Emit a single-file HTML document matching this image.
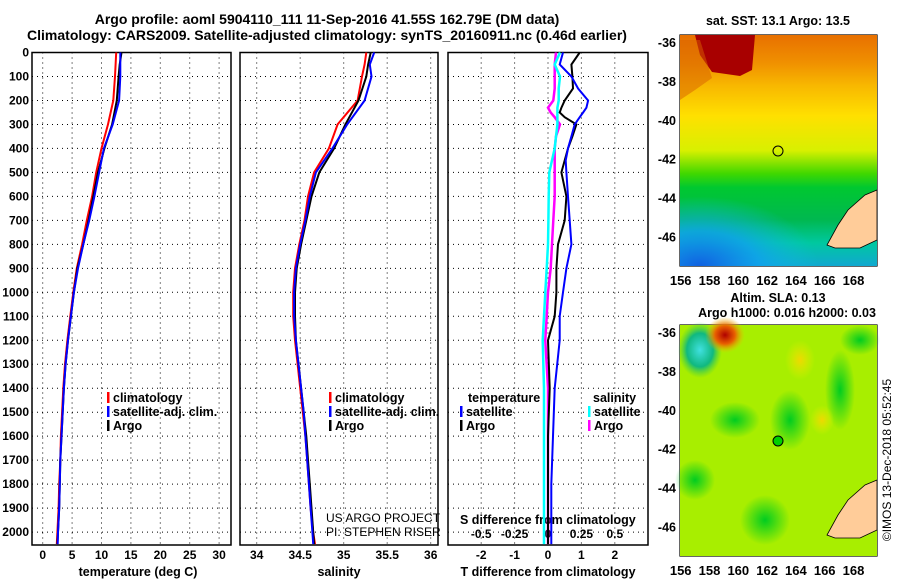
<!DOCTYPE html>
<html><head><meta charset="utf-8"><style>
body{margin:0;background:#fff}
svg{display:block;font-family:"Liberation Sans",sans-serif}
.b{font-weight:bold;font-size:12px}
.l{font-weight:bold;font-size:12.5px}
</style></head><body>
<svg id="c" width="900" height="580" viewBox="0 0 900 580">
<defs>
<linearGradient id="sst" x1="0" y1="0" x2="0" y2="1">
<stop offset="0" stop-color="#e87000"/><stop offset="0.12" stop-color="#f09000"/><stop offset="0.22" stop-color="#f8b800"/><stop offset="0.35" stop-color="#ffe000"/><stop offset="0.5" stop-color="#d8f000"/><stop offset="0.6" stop-color="#40d800"/><stop offset="0.66" stop-color="#00c830"/><stop offset="0.8" stop-color="#00b850"/><stop offset="0.9" stop-color="#00c8a0"/><stop offset="1" stop-color="#10a8d0"/>
</linearGradient>
<radialGradient id="blue" cx="0.1" cy="1" r="0.6"><stop offset="0" stop-color="#1060e0"/><stop offset="0.5" stop-color="#10a0f0" stop-opacity="0.8"/><stop offset="1" stop-color="#10c0e0" stop-opacity="0"/></radialGradient>
<radialGradient id="red" cx="0.5" cy="0.5" r="0.5"><stop offset="0" stop-color="#b00000"/><stop offset="0.5" stop-color="#e86000"/><stop offset="1" stop-color="#f0c000" stop-opacity="0"/></radialGradient>
<radialGradient id="cy" cx="0.5" cy="0.5" r="0.5"><stop offset="0" stop-color="#40e0e0"/><stop offset="0.6" stop-color="#10b880"/><stop offset="1" stop-color="#40d040" stop-opacity="0"/></radialGradient>
<radialGradient id="gr" cx="0.5" cy="0.5" r="0.5"><stop offset="0" stop-color="#00cc20"/><stop offset="1" stop-color="#00cc20" stop-opacity="0"/></radialGradient>
<radialGradient id="ye" cx="0.5" cy="0.5" r="0.5"><stop offset="0" stop-color="#f0d800"/><stop offset="1" stop-color="#e0f000" stop-opacity="0"/></radialGradient>
</defs>
<g id="main"></g>
<g>
<rect x="680" y="35" width="197" height="231" fill="url(#sst)"/>
<rect x="680" y="150" width="197" height="116" fill="url(#blue)"/>
<polygon points="695,35 755,35 752,70 740,76 712,72 700,55" fill="#a80000"/>
<polygon points="680,40 700,40 712,78 695,90 680,100" fill="#d86000" opacity="0.5"/>
<polygon points="877,190 865,195 848,210 838,225 827,245 835,248 860,248 877,240" fill="#ffcc99" stroke="#000" stroke-width="0.8"/>
<circle cx="778" cy="151" r="5" fill="none" stroke="#000"/>
</g>
<g>
<rect x="680" y="325" width="197" height="231" fill="#a8ee00"/>
<ellipse cx="700" cy="350" rx="22" ry="28" fill="url(#cy)"/>
<ellipse cx="725" cy="335" rx="20" ry="18" fill="url(#red)"/>
<ellipse cx="735" cy="420" rx="25" ry="18" fill="url(#gr)"/>
<ellipse cx="765" cy="520" rx="25" ry="25" fill="url(#gr)"/>
<ellipse cx="695" cy="480" rx="20" ry="20" fill="url(#gr)"/>
<ellipse cx="790" cy="420" rx="20" ry="30" fill="url(#gr)"/>
<ellipse cx="840" cy="390" rx="15" ry="40" fill="url(#gr)"/>
<ellipse cx="860" cy="340" rx="20" ry="15" fill="url(#gr)"/>
<ellipse cx="800" cy="360" rx="15" ry="20" fill="url(#ye)"/>
<ellipse cx="822" cy="420" rx="12" ry="15" fill="url(#ye)"/>
<polygon points="877,480 865,485 848,500 838,515 827,535 835,538 860,538 877,530" fill="#ffcc99" stroke="#000" stroke-width="0.8"/>
<circle cx="778" cy="441" r="5" fill="#00d000" stroke="#000"/>
</g>
</svg>
<script>
// profile data (depth in dbar)
const depths=[0,50,100,200,300,400,500,600,700,800,900,1000,1100,1200,1300,1400,1500,1600,1700,1800,1900,2000,2050];
const tClim=[12.5,12.4,12.3,12.0,11.1,10.0,9.1,8.4,7.5,6.7,5.8,5.2,4.7,4.2,3.8,3.5,3.3,3.1,3.0,2.8,2.7,2.5,2.4];
const tSat=[13.2,13.2,13.2,13.0,11.9,10.4,9.6,8.8,7.9,6.9,6.0,5.3,4.8,4.3,3.9,3.6,3.4,3.2,3.0,2.9,2.8,2.6,2.55];
const tArgo=[13.4,13.1,12.9,12.6,11.8,10.5,9.4,8.6,7.8,6.9,5.9,5.3,4.8,4.3,3.9,3.6,3.4,3.2,3.0,2.9,2.8,2.6,2.5];
const sClim=[35.26,35.24,35.21,35.16,34.93,34.83,34.66,34.59,34.55,34.49,34.44,34.42,34.42,34.44,34.47,34.5,34.53,34.56,34.58,34.6,34.62,34.65,34.67];
const sSat=[35.35,35.30,35.32,35.24,35.04,34.87,34.68,34.61,34.56,34.50,34.45,34.43,34.43,34.45,34.48,34.51,34.54,34.56,34.58,34.6,34.62,34.64,34.65];
const sArgo=[35.31,35.28,35.26,35.17,35.02,34.89,34.72,34.63,34.57,34.51,34.46,34.44,34.44,34.45,34.48,34.51,34.54,34.57,34.59,34.61,34.63,34.65,34.66];
const dDepth=[0,50,100,150,200,230,250,270,300,350,400,450,500,600,700,800,900,1000,1100,1200,1400,1600,1800,2000,2050];
const dTSat=[0.45,0.35,0.7,0.9,1.2,1.15,1.05,0.95,0.8,0.7,0.6,0.53,0.55,0.6,0.65,0.7,0.55,0.45,0.35,0.35,0.2,0.15,0.1,0.1,0.1];
const dTArgo=[0.95,0.7,0.73,0.75,0.5,0.4,0.35,0.5,0.85,0.73,0.6,0.5,0.4,0.55,0.5,0.3,0.25,0.25,0.2,0.0,0.05,0.0,0.0,0.0,0.0];
const dSArgo=[0.06,0.05,0.05,0.05,0.04,0.0,0.02,0.05,0.09,0.06,0.05,0.05,0.05,0.05,0.04,0.03,0.02,0.0,-0.01,-0.02,0.0,0.0,0.0,0.0,0.0];
const dSSat=[0.09,0.05,0.09,0.08,0.08,0.07,0.07,0.07,0.07,0.06,0.05,0.03,0.01,0.005,0.003,0.0,-0.01,-0.02,-0.03,-0.04,-0.03,-0.03,-0.03,-0.03,-0.03];
const depthTicks=[0,100,200,300,400,500,600,700,800,900,1000,1100,1200,1300,1400,1500,1600,1700,1800,1900,2000];
const tTicks=[0,5,10,15,20,25,30];
const sTicks=[34,34.5,35,35.5,36];
const dTTicks=[-2,-1,0,1,2];
const dSTicks=["-0.5","-0.25","0","0.25","0.5"];
const latTicks=[-36,-38,-40,-42,-44,-46];
const lonTicks=[156,158,160,162,164,166,168];

const NS='http://www.w3.org/2000/svg';
const G=document.getElementById('main');
function mk(tag,at,parent){const e=document.createElementNS(NS,tag);for(const k in at)e.setAttribute(k,at[k]);(parent||G).appendChild(e);return e;}
function txt(x,y,s,cls,anchor,parent){const e=mk('text',{x:x,y:y,'text-anchor':anchor||'start'},parent);if(cls)e.setAttribute('class',cls);e.textContent=s;return e;}
const TOP=52.5,BOT=545;
const yD=d=>TOP+d*0.2398;
const xT=t=>42.7+t*5.88;
const xS=s=>256.7+(s-34)*87;
const xDT=t=>548+t*33.4;
const xDS=s=>548+s*133.6;
function line(xs,ys,xf,col,w,name){
  const pts=xs.map((v,i)=>xf(v).toFixed(1)+','+yD(ys[i]).toFixed(1)).join(' ');
  const p=mk('polyline',{points:pts,fill:'none',stroke:col,'stroke-width':w});
  
  
}
function grid(x0,x1,gx){
  depthTicks.forEach(d=>{mk('line',{x1:x0,x2:x1,y1:yD(d),y2:yD(d),stroke:'#000','stroke-dasharray':'1,4'});});
  gx.forEach(x=>{mk('line',{x1:x,x2:x,y1:TOP,y2:BOT,stroke:'#000','stroke-dasharray':'1,4'});});
}
const P=[[32,231],[240,438],[448,648]];
grid(32,231,tTicks.map(xT));
grid(240,438,sTicks.map(xS));
grid(448,648,dTTicks.map(xDT));
P.forEach((p,i)=>{const r=mk('rect',{x:p[0],y:TOP,width:p[1]-p[0],height:BOT-TOP,fill:'none',stroke:'#000','stroke-width':1.5});

});
depthTicks.forEach(d=>{const t=txt(29,yD(d)+4,String(d),'b','end');

});
tTicks.forEach(v=>{txt(xT(v),559,String(v),'b','middle');});
sTicks.forEach(v=>{txt(xS(v),559,String(v),'b','middle');});
dTTicks.forEach(v=>{txt(xDT(v),559,String(v),'b','middle');});
dSTicks.forEach((v,i)=>{txt(xDS(+v),538,v,'b','middle');});
txt(460,524,'S difference from climatology','l','start');
let e;
e=txt(138,576,'temperature (deg C)','l','middle');
e=txt(339,576,'salinity','l','middle');
e=txt(548,576,'T difference from climatology','l','middle');
line(tClim,depths,xT,'#ff0000',2,'temp-climatology-line');
line(tArgo,depths,xT,'#000000',2,'temp-argo-line');
line(tSat,depths,xT,'#0000ff',2,'temp-satellite-line');
line(sClim,depths,xS,'#ff0000',2,'sal-climatology-line');
line(sArgo,depths,xS,'#000000',2,'sal-argo-line');
line(sSat,depths,xS,'#0000ff',2,'sal-satellite-line');
line(dSArgo,dDepth,xDS,'#ff00ff',2.5,'sdiff-argo-line');
line(dSSat,dDepth,xDS,'#00ffff',2.5,'sdiff-satellite-line');
line(dTArgo,dDepth,xDT,'#000000',2,'tdiff-argo-line');
line(dTSat,dDepth,xDT,'#0000ff',2,'tdiff-satellite-line');
function leg(x,y,col,label,name){
  mk('rect',{x:x,y:y-10,width:2.5,height:11,fill:col});
  const t=txt(x+6,y,label,'l');
  
  
}
leg(107,402,'#ff0000','climatology','legend-climatology');
leg(107,416,'#0000ff','satellite-adj. clim.','legend-satellite');
leg(107,430,'#000000','Argo','legend-argo');
leg(329,402,'#ff0000','climatology','legend-climatology-2');
leg(329,416,'#0000ff','satellite-adj. clim.','legend-satellite-2');
leg(329,430,'#000000','Argo','legend-argo-2');
txt(468,402,'temperature','l');
leg(460,416,'#0000ff','satellite','legend-tdiff-satellite');
leg(460,430,'#000000','Argo','legend-tdiff-argo');
txt(593,402,'salinity','l');
leg(588,416,'#00ffff','satellite','legend-sdiff-satellite');
leg(588,430,'#ff00ff','Argo','legend-sdiff-argo');
txt(326,522,'US ARGO PROJECT','','start').setAttribute('font-size','12');
txt(326,536,'PI: STEPHEN RISER','','start').setAttribute('font-size','12');
e=txt(327,24,'Argo profile: aoml 5904110_111 11-Sep-2016 41.55S 162.79E (DM data)','b','middle');e.setAttribute('style','font-size:14px');

e=txt(327,40,'Climatology: CARS2009. Satellite-adjusted climatology: synTS_20160911.nc (0.46d earlier)','b','middle');e.setAttribute('style','font-size:14px');

txt(778,25,'sat. SST: 13.1 Argo: 13.5','l','middle');
txt(778,302,'Altim. SLA: 0.13','l','middle');
txt(787,317,'Argo h1000: 0.016 h2000: 0.03','l','middle');
[[35,266,42],[325,556,332]].forEach(m=>{
  const [t,b,l0]=m;
  const r=mk('rect',{x:680,y:t,width:197,height:b-t,fill:'none',stroke:'#000','stroke-width':1.2});
  
  
  latTicks.forEach(v=>{const y=l0+(-36-v)*19.45;
    mk('line',{x1:680,x2:684,y1:y,y2:y,stroke:'#000'});mk('line',{x1:873,x2:877,y1:y,y2:y,stroke:'#000'});
    txt(676,y+5,String(v),'l','end');});
  lonTicks.forEach(v=>{const x=680.7+(v-156)*14.4;
    mk('line',{x1:x,x2:x,y1:t,y2:t+4,stroke:'#000'});mk('line',{x1:x,x2:x,y1:b-4,y2:b,stroke:'#000'});
    txt(x,b+19,String(v),'b','middle').setAttribute('style','font-size:13px');});
});
e=txt(0,0,'©IMOS 13-Dec-2018 05:52:45','','middle');
e.setAttribute('font-size','12');e.setAttribute('transform','translate(891,460) rotate(-90)');
</script>
</body></html>
